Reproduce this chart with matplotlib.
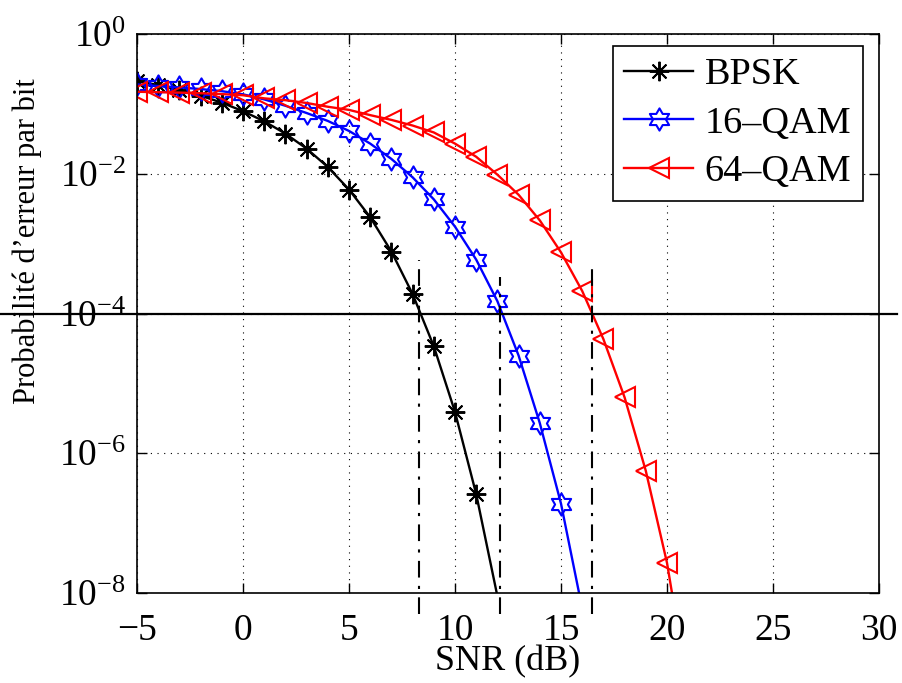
import numpy as np
import matplotlib
matplotlib.use("Agg")
import matplotlib.pyplot as plt
from matplotlib.path import Path
from matplotlib.transforms import blended_transform_factory
from matplotlib.ticker import FixedLocator, FuncFormatter

plt.rcParams['font.family'] = ['Liberation Serif', 'DejaVu Serif']
plt.rcParams['mathtext.fontset'] = 'custom'
plt.rcParams['mathtext.rm'] = 'Liberation Serif'
plt.rcParams['mathtext.it'] = 'Liberation Serif:italic'

# ---------------- data ----------------
snr_bpsk = [-5, -4, -3, -2, -1, 0, 1, 2, 3, 4, 5, 6, 7, 8, 9, 10, 11, 12]
ber_bpsk = [0.213, 0.186, 0.158, 0.131, 0.104, 0.0786, 0.0563, 0.0375, 0.0229,
            0.0125, 0.00595, 0.00239, 7.7e-4, 1.9e-4, 3.4e-5, 3.9e-6, 2.6e-7, 9.0e-9]

snr_16qam = [-5, -4, -3, -2, -1, 0, 1, 2, 3, 4, 5, 6, 7, 8, 9, 10, 11, 12, 13, 14, 15, 16]
ber_16qam = [0.19, 0.18, 0.172, 0.163, 0.152, 0.137, 0.116, 0.094, 0.074, 0.057,
             0.041, 0.027, 0.0163, 0.0089, 0.0043, 0.00175, 5.9e-4, 1.5e-4,
             2.5e-5, 2.7e-6, 1.9e-7, 6.0e-9]

snr_64qam = [-5, -4, -3, -2, -1, 0, 1, 2, 3, 4, 5, 6, 7, 8, 9, 10, 11, 12, 13,
             14, 15, 16, 17, 18, 19, 20, 21]
ber_64qam = [0.149, 0.147, 0.145, 0.142, 0.138, 0.133, 0.12, 0.113, 0.103, 0.091,
             0.082, 0.069, 0.059, 0.049, 0.039, 0.027, 0.0175, 0.0097, 0.005,
             0.00215, 7.5e-4, 2.1e-4, 4.3e-5, 6.3e-6, 5.6e-7, 2.7e-8, 4.0e-10]

labels = ['BPSK', '16\u2013QAM', '64\u2013QAM']
target_ber = 1e-4
thr_snr = [8.3, 12.12, 16.46]
thr_top = [5.9e-4, 3.3e-4, 4.7e-4]
thr_bottom = 5.0e-9

xticks = [-5, 0, 5, 10, 15, 20, 25, 30]
yticks = [1e-8, 1e-6, 1e-4, 1e-2, 1e0]

# ---------------- markers ----------------
ang_o = np.deg2rad(90 + 60 * np.arange(6))
ang_i = np.deg2rad(120 + 60 * np.arange(6))
ri = 1 / np.sqrt(3)
verts = []
for a, b in zip(ang_o, ang_i):
    verts.append((np.cos(a), np.sin(a)))
    verts.append((ri * np.cos(b), ri * np.sin(b)))
verts.append(verts[0])
codes = [Path.MOVETO] + [Path.LINETO] * 11 + [Path.CLOSEPOLY]
hexagram = Path(verts, codes)

fig = plt.figure(figsize=(9.02, 6.83), dpi=100)
ax = fig.add_axes([137 / 902, 90 / 683, 742 / 902, 559 / 683])

def vis(b):
    return [v >= 1e-8 for v in b]

ax.plot(snr_bpsk, ber_bpsk, color='black', lw=1.7, marker=(8, 2, 0), ms=14,
        mew=1.4, markevery=vis(ber_bpsk), label=labels[0])
ax.plot(snr_16qam, ber_16qam, color='blue', lw=1.7, marker=hexagram, ms=16,
        mew=1.5, mfc='none', markevery=vis(ber_16qam), label=labels[1])
ax.plot(snr_64qam, ber_64qam, color='red', lw=1.7, marker='<', ms=15,
        mew=1.5, mfc='none', markevery=vis(ber_64qam), label=labels[2])

# threshold lines
trans = blended_transform_factory(fig.transFigure, ax.transData)
ax.plot([0, 897 / 902], [target_ber, target_ber], color='black', lw=1.6,
        transform=trans, clip_on=False)
for xs, yt in zip(thr_snr, thr_top):
    ax.plot([xs, xs], [thr_bottom, yt], color='black', lw=1.5, ls='-.',
            dashes=(8, 4, 1.5, 4), clip_on=False)

ax.set_yscale('log')
ax.set_xlim(-5, 30)
ax.set_ylim(1e-8, 1)
ax.xaxis.set_major_locator(FixedLocator(xticks))
ax.yaxis.set_major_locator(FixedLocator(yticks))
ax.yaxis.set_minor_locator(FixedLocator([]))
ax.yaxis.set_major_formatter(FuncFormatter(
    lambda v, p: r'$10^{%d}$' % int(round(np.log10(v)))))
ax.xaxis.set_major_formatter(FuncFormatter(
    lambda v, p: ('%d' % v).replace('-', '\u2212')))

ax.grid(True, which='major', color='black', ls=(0, (1, 5)), lw=0.8)
ax.tick_params(direction='in', length=7, width=1, top=True, right=True,
               labelsize=27)
ax.tick_params(axis='x', pad=15)
ax.tick_params(axis='y', pad=8)
for s in ax.spines.values():
    s.set_linewidth(1.2)

ax.set_xlabel('SNR (dB)', fontsize=26)
ax.xaxis.set_label_coords(0.5, -0.094)
ax.set_ylabel("Probabilité d\u2019erreur par bit", fontsize=22)
ax.yaxis.set_label_coords(-0.128, 0.63)

leg = ax.legend(loc='upper right', bbox_to_anchor=(0.978, 0.9785),
                borderaxespad=0, fontsize=27.5, fancybox=False, framealpha=1,
                edgecolor='black', handlelength=1.8, handletextpad=0.3,
                labelspacing=0.36, borderpad=0.3)
leg.get_frame().set_linewidth(1.2)

fig.savefig('out.png', dpi=100)
